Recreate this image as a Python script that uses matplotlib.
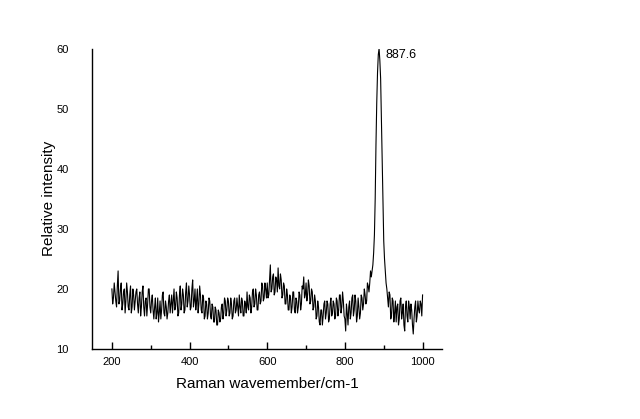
import numpy as np
from matplotlib import pyplot as plt

plt.rcParams['font.family'] = ['Liberation Sans', 'DejaVu Sans']

# Raman shift grid (cm-1, every 2) and intensities
wavenumber = np.arange(200, 1001, 2)

seg_200 = [20, 17.5, 18.5, 21, 19.5, 18, 17, 20.5, 23, 17.5,
           18, 20, 21, 16.5, 17.5, 19.5, 20, 16, 18, 21,
           19.5, 17, 16.5, 19, 20.5, 16, 17, 20, 19, 16.5,
           18, 19.5, 20, 17.5, 16, 18.5, 19.5, 15.5, 17, 19.5,
           20.5, 17, 15.5, 18, 18.5, 15.5, 17.5, 20, 20, 17]
seg_300 = [16, 18, 19, 16.5, 15, 17, 18.5, 15, 16, 18.5,
           14.5, 16, 18, 15, 16.5, 19, 19.5, 16, 15.5, 18,
           17, 15, 16, 18, 19, 16, 17.5, 19, 16, 18,
           20, 16.5, 17, 19.5, 18.5, 15.5, 16, 19, 20.5, 16.5,
           17.5, 20, 19, 16, 16.5, 19.5, 21, 17, 18, 20.5]
seg_400 = [19, 16.5, 17, 20, 21.5, 17, 18, 20, 16.5, 18,
           20, 16, 17.5, 20.5, 19, 16.5, 16, 19, 18.5, 15,
           15.5, 18, 17.5, 15, 16, 18.5, 18, 15.5, 15, 17.5,
           17, 14.5, 14.5, 17, 16.5, 14, 14, 16.5, 16, 14.5,
           15, 17, 17.5, 15, 16, 18.5, 18, 15.5, 16.5, 18.5]
seg_500 = [18, 15.5, 16, 18.5, 17.5, 15, 15.5, 18, 18.5, 16,
           16.5, 18.5, 17, 15.5, 19, 17, 16, 18.5, 18, 15.5,
           15.5, 18, 17.5, 16, 19.5, 17, 16.5, 19, 18.5, 16,
           17, 19.5, 20, 17, 17.5, 20, 19, 16.5, 16.5, 19,
           19.5, 17.5, 18, 21, 20.5, 18, 18.5, 21, 20, 18.5]
seg_600 = [21, 18.5, 19, 21.5, 24, 19.5, 20, 22, 22.5, 19,
           19.5, 22, 21.5, 19.5, 23.5, 20.5, 20, 22.5, 21.5, 18.5,
           19, 21, 20.5, 17.5, 17.5, 20, 19, 16.5, 16.5, 19,
           18.5, 16, 17, 19.5, 19.5, 16.5, 16, 18.5, 18, 16,
           17, 19.5, 19, 16.5, 17.5, 20.5, 20, 22, 18.5, 19]
seg_700 = [21, 18, 19, 21.5, 20.5, 17.5, 18, 20, 19.5, 16.5,
           17, 19, 18, 15, 15.5, 18, 17, 14.5, 14, 16.5,
           16.5, 14, 15.5, 17.5, 18, 15, 16, 18, 17.5, 14.5,
           15, 17.5, 18.5, 15.5, 16, 18, 17.5, 15, 15.5, 18.5,
           18, 15.5, 16.5, 19, 19, 16, 17, 19.5, 18, 15.5]
seg_800 = [15, 13, 17.5, 16, 14, 17, 18, 15, 16, 18.5,
           19, 15.5, 16.5, 19, 18, 14.5, 15.5, 18.5, 17, 15,
           16, 19, 18.5, 16.5, 17.5, 20, 19, 17.5, 18, 21,
           20.5, 19.5, 21, 23, 22, 23, 24, 26, 29, 35,
           44, 51, 56, 59, 60, 58, 55, 48, 40, 33]
seg_900 = [28, 25, 23, 21, 20, 18.5, 17, 19.5, 19, 15,
           15.5, 18.5, 18, 14.5, 16, 18, 14.5, 17, 17.5, 14,
           15, 18, 18.5, 15, 16, 17.5, 14, 13, 17, 18,
           15.5, 14.5, 18, 17, 15, 17.5, 16.5, 14, 12.5, 15,
           17, 18, 14.5, 15.5, 18, 16.5, 16, 18, 17.5, 15.5,
           19]

intensity = np.array(seg_200 + seg_300 + seg_400 + seg_500 + seg_600
                     + seg_700 + seg_800 + seg_900)

peak_label = "887.6"

fig = plt.figure(figsize=(6.4, 4.19), dpi=100)
ax = fig.add_axes([0.1445, 0.167, 0.5455, 0.717])
ax.plot(wavenumber, intensity, color='black', lw=0.8)

ax.set_xlim(150, 1049)
ax.set_ylim(10, 60)
ax.set_xticks([200, 400, 600, 800, 1000])
ax.set_xticks([300, 500, 700, 900], minor=True)
ax.set_yticks([10, 20, 30, 40, 50, 60])

for side in ['top', 'right']:
    ax.spines[side].set_visible(False)
ax.spines['left'].set_linewidth(1.0)
ax.spines['bottom'].set_linewidth(1.0)

ax.tick_params(axis='x', which='major', direction='in', length=5, width=1,
               labelsize=8, pad=6)
ax.tick_params(axis='x', which='minor', direction='in', length=3, width=1)
ax.tick_params(axis='y', length=0, labelsize=8, pad=17)

ax.set_xlabel("Raman wavemember/cm-1", fontsize=11)
ax.set_ylabel("Relative intensity", fontsize=11)
ax.xaxis.set_label_coords(0.5, -0.092)
ax.yaxis.set_label_coords(-0.104, 0.5)

ipk = int(np.argmax(intensity))
ax.text(wavenumber[ipk] + 16, 58.9, peak_label, fontsize=9,
        ha='left', va='center')

fig.savefig("out.png", dpi=100)
